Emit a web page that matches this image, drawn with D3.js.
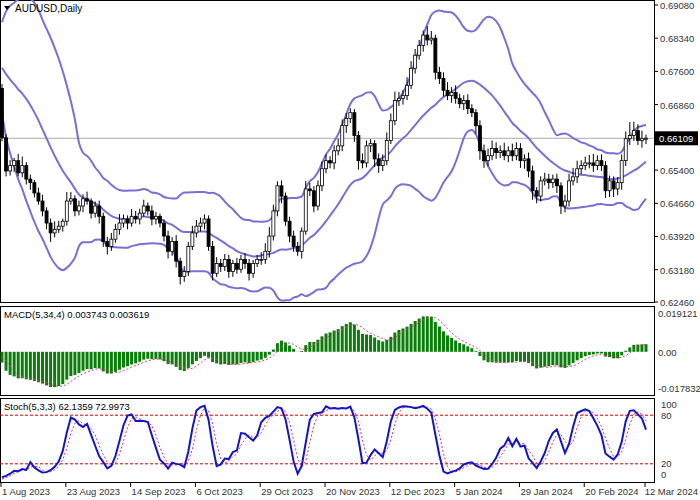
<!DOCTYPE html><html><head><meta charset="utf-8">
<script src="https://cdn.jsdelivr.net/npm/d3@7"></script>
<style>body{margin:0;background:#fff}svg{display:block;font-family:"Liberation Sans",Arial,sans-serif}</style></head>
<body><svg id="c" width="700" height="500"></svg>
<script>
// prior bars (off-screen) used only for indicator warm-up
const preCloses=[0.6620,0.6640,0.6660,0.6650,0.6680,0.6700,0.6690,0.6720,0.6740,0.6730,0.6760,0.6780,0.6770,0.6800,0.6820,0.6810,0.6790,0.6820,0.6840,0.6860,
0.6840,0.6820,0.6790,0.6770,0.6760,0.6740,0.6760,0.6790,0.6810,0.6830,0.6850,0.6820,0.6800,0.6780,0.6760,0.6750,0.6740,0.6730,0.6725,0.6722];
// visible daily closes, 1 Aug 2023 .. 12 Mar 2024
const closes=[0.6612,0.6538,0.6550,0.6561,0.6534,0.6550,0.6520,0.6512,0.6489,0.6471,0.6449,0.6422,0.6400,0.6408,0.6415,0.6426,0.6471,0.6476,0.6449,0.6460,
0.6476,0.6471,0.6444,0.6460,0.6437,0.6381,0.6370,0.6386,0.6408,0.6422,0.6431,0.6422,0.6437,0.6431,0.6444,0.6460,0.6449,0.6431,0.6437,0.6422,
0.6393,0.6359,0.6381,0.6337,0.6303,0.6314,0.6370,0.6400,0.6415,0.6422,0.6431,0.6370,0.6310,0.6332,0.6325,0.6341,0.6314,0.6332,0.6319,0.6341,
0.6332,0.6310,0.6332,0.6341,0.6341,0.6359,0.6393,0.6449,0.6505,0.6482,0.6426,0.6393,0.6370,0.6359,0.6404,0.6498,0.6494,0.6460,0.6505,0.6543,
0.6561,0.6556,0.6583,0.6594,0.6639,0.6655,0.6668,0.6617,0.6561,0.6556,0.6594,0.6599,0.6565,0.6550,0.6561,0.6606,0.6650,0.6695,0.6700,0.6706,
0.6729,0.6767,0.6796,0.6818,0.6841,0.6830,0.6834,0.6758,0.6744,0.6718,0.6706,0.6713,0.6700,0.6688,0.6695,0.6677,0.6668,0.6639,0.6583,0.6561,
0.6572,0.6588,0.6579,0.6583,0.6572,0.6583,0.6572,0.6588,0.6561,0.6565,0.6538,0.6494,0.6482,0.6516,0.6520,0.6512,0.6520,0.6505,0.6460,0.6471,
0.6516,0.6525,0.6543,0.6550,0.6556,0.6556,0.6550,0.6561,0.6550,0.6494,0.6516,0.6498,0.6512,0.6561,0.6610,0.6617,0.6628,0.6606,0.6610,0.6611];
// wick sizes in pips (upper, lower)
const wickUp=[10,8,12,6,15,20,8,10,6,12,14,8,10,18,12,6,20,15,8,12,10,16,6,10,12,8,10,14,12,20,10,8,16,12,10,14,8,12,10,6,
8,12,10,14,8,12,10,16,14,12,10,8,12,14,10,12,10,8,12,10,14,10,8,10,16,18,20,14,10,12,8,10,12,10,8,18,14,10,12,16,
14,10,12,16,14,12,10,8,10,16,12,10,8,12,14,18,16,20,14,12,18,16,14,12,10,20,16,8,12,14,18,12,16,10,12,14,10,8,12,14,
16,18,14,12,18,10,16,14,12,10,14,12,8,10,14,12,10,12,8,14,16,20,18,12,14,18,20,12,14,10,12,10,12,14,16,30,20,14,18,8];
const wickDn=[8,12,10,14,8,10,12,16,10,8,12,14,20,10,8,12,10,8,12,10,14,8,12,10,16,12,18,10,8,12,10,14,8,10,12,8,10,14,12,10,
12,16,10,14,18,12,10,8,10,12,14,10,16,8,12,10,14,12,10,8,12,16,10,8,12,10,14,10,12,16,10,14,12,10,16,8,12,14,10,12,
10,12,14,10,12,16,10,14,20,12,10,14,18,16,12,10,8,10,12,14,10,8,12,10,14,12,10,16,12,14,10,16,12,10,14,12,10,18,20,16,
12,10,14,12,10,14,12,10,16,18,14,20,16,12,10,14,12,16,18,14,12,10,14,12,10,12,14,10,12,16,14,18,14,16,12,14,12,10,16,12];
const priceTicks=[0.69080,0.68340,0.67600,0.66860,0.65400,0.64660,0.63920,0.63180,0.62460];
const lastPrice=0.66109;
const dateLabels=["1 Aug 2023","23 Aug 2023","14 Sep 2023","6 Oct 2023","29 Oct 2023","20 Nov 2023","12 Dec 2023","5 Jan 2024","29 Jan 2024","20 Feb 2024","12 Mar 2024"];
const dateIdx=[0,16,32,48,64,80,96,112,128,144,159];
const macdTicks=[0.019121,0,-0.017832];
const stochTicks=[100,80,20,0];

const all=preCloses.concat(closes), P=preCloses.length, N=closes.length;
const bars=closes.map((c,i)=>{const o=all[P+i-1];return {i,o,c,h:Math.max(o,c)+wickUp[i]*1e-4,l:Math.min(o,c)-wickDn[i]*1e-4};});
const allH=all.map((c,k)=>k<P?Math.max(c,all[k-1]||c):bars[k-P].h);
const allL=all.map((c,k)=>k<P?Math.min(c,all[k-1]||c):bars[k-P].l);
const bb=closes.map((_,i)=>{const w=all.slice(P+i-19,P+i+1),m=d3.mean(w),s=Math.sqrt(d3.mean(w,v=>(v-m)**2));return {i,m,u:m+2*s,d:m-2*s};});
function ema(a,n){const k=2/(n+1);let r=[a[0]];for(let j=1;j<a.length;j++)r.push(a[j]*k+r[j-1]*(1-k));return r;}
const e5=ema(all,5),e34=ema(all,34),mac=all.map((v,k)=>e5[k]-e34[k]);
const sig=mac.map((v,k)=>k<3?v:d3.mean(mac.slice(k-3,k+1)));
const raw=all.map((c,k)=>{if(k<6)return null;const hh=[],ll=[];for(let s=0;s<3;s++){const j=k-s;const H=d3.max(allH.slice(j-4,j+1)),L=d3.min(allL.slice(j-4,j+1));hh.push(H-L);ll.push(all[j]-L);}return 100*d3.sum(ll)/d3.sum(hh);});
const stD=raw.map((v,k)=>k<9?v:d3.mean(raw.slice(k-2,k+1)));

const svg=d3.select("#c");
const x=d3.scaleLinear().domain([0,N-1]).range([2,646]);
const y=d3.scaleLinear().domain([0.62460,0.69080]).range([302,5]);
const ym=d3.scaleLinear().domain([-0.017832,0.019121]).range([388,313]);
const ys=d3.scaleLinear().domain([0,100]).range([480,399]);
const AX=654, FS=9.5, TC="#333";
svg.append("rect").attr("x",0.5).attr("y",0.5).attr("width",AX).attr("height",302).attr("fill","none").attr("stroke","#000");
svg.append("rect").attr("x",0.5).attr("y",306.5).attr("width",AX).attr("height",89).attr("fill","none").attr("stroke","#000");
svg.append("rect").attr("x",0.5).attr("y",398.5).attr("width",AX).attr("height",84).attr("fill","none").attr("stroke","#000");
svg.append("line").attr("x1",0).attr("x2",AX).attr("y1",y(lastPrice)).attr("y2",y(lastPrice)).attr("stroke","#aaa");
const band="#7b6ed6";
["u","m","d"].forEach(k=>svg.append("path").datum(bb).attr("fill","none").attr("stroke",band).attr("stroke-width",2)
 .attr("d",d3.line().x(d=>x(d.i)).y(d=>y(d[k])).curve(d3.curveMonotoneX)));
const g=svg.append("g");
g.selectAll(".w").data(bars).join("line").attr("x1",d=>x(d.i)).attr("x2",d=>x(d.i)).attr("y1",d=>y(d.h)).attr("y2",d=>y(d.l)).attr("stroke","#000");
g.selectAll(".b").data(bars).join("rect").attr("x",d=>x(d.i)-1.5).attr("width",3)
 .attr("y",d=>y(Math.max(d.o,d.c))).attr("height",d=>Math.max(1,Math.abs(y(d.o)-y(d.c))))
 .attr("fill",d=>d.c>=d.o?"#fff":"#000").attr("stroke","#000").attr("stroke-width",0.8);
svg.selectAll(".pt").data(priceTicks).join("text").attr("x",660).attr("y",d=>y(d)+4).attr("font-size",FS).attr("fill",TC).text(d=>d.toFixed(5));
svg.selectAll(".ptk").data(priceTicks).join("line").attr("x1",AX).attr("x2",AX+4).attr("y1",d=>y(d)).attr("y2",d=>y(d)).attr("stroke","#000");
svg.append("rect").attr("x",AX+1).attr("y",y(lastPrice)-7).attr("width",43).attr("height",14).attr("fill","#000");
svg.append("text").attr("x",659).attr("y",y(lastPrice)+4).attr("font-size",FS).attr("fill","#fff").text(lastPrice.toFixed(5));
svg.append("path").attr("d","M4,6 L10,6 L7,10 Z").attr("fill","#000");
svg.append("text").attr("x",15).attr("y",12).attr("font-size",10).text("AUDUSD,Daily");
const md=closes.map((_,i)=>({i,v:mac[P+i],s:sig[P+i]}));
svg.selectAll(".mb").data(md).join("rect").attr("x",d=>x(d.i)-1.5).attr("width",3)
 .attr("y",d=>Math.min(ym(d.v),ym(0))).attr("height",d=>Math.abs(ym(d.v)-ym(0))).attr("fill","#0a7d0a");
svg.append("path").datum(md).attr("fill","none").attr("stroke","#e0407a").attr("stroke-dasharray","2,2").attr("d",d3.line().x(d=>x(d.i)).y(d=>ym(d.s)));
svg.selectAll(".mt").data(macdTicks).join("text").attr("x",658).attr("y",d=>ym(d)+4).attr("font-size",FS).attr("fill",TC).text(d=>d===0?"0.00":d.toFixed(6));
const lm=md[N-1];
svg.append("text").attr("x",4).attr("y",318).attr("font-size",FS).text(`MACD(5,34,4) ${lm.v.toFixed(6)} ${lm.s.toFixed(6)}`);
[80,20].forEach(v=>svg.append("line").attr("x1",0).attr("x2",AX).attr("y1",ys(v)).attr("y2",ys(v)).attr("stroke","#c00").attr("stroke-dasharray","3,2"));
const sd=closes.map((_,i)=>({i,k:raw[P+i],d:stD[P+i]}));
svg.append("path").datum(sd).attr("fill","none").attr("stroke","#e03060").attr("stroke-dasharray","2,2").attr("d",d3.line().x(d=>x(d.i)).y(d=>ys(d.d)));
svg.append("path").datum(sd).attr("fill","none").attr("stroke","#1414c8").attr("stroke-width",2).attr("d",d3.line().x(d=>x(d.i)).y(d=>ys(d.k)));
svg.selectAll(".st").data(stochTicks).join("text").attr("x",661).attr("y",d=>({100:408,80:419,20:467,0:478})[d]).attr("font-size",FS).attr("fill",TC).text(d=>d);
const ls=sd[N-1];
svg.append("text").attr("x",4).attr("y",410).attr("font-size",FS).text(`Stoch(5,3,3) ${ls.k.toFixed(4)} ${ls.d.toFixed(4)}`);
dateIdx.forEach((k,j)=>{const last=j==dateIdx.length-1;
 svg.append("line").attr("x1",x(k)-1).attr("x2",x(k)-1).attr("y1",483).attr("y2",487).attr("stroke","#000");
 svg.append("text").attr("x",last?698:x(k)).attr("y",495).attr("font-size",FS).attr("fill",TC).attr("text-anchor",last?"end":"start").text(dateLabels[j]);});
</script></body></html>
